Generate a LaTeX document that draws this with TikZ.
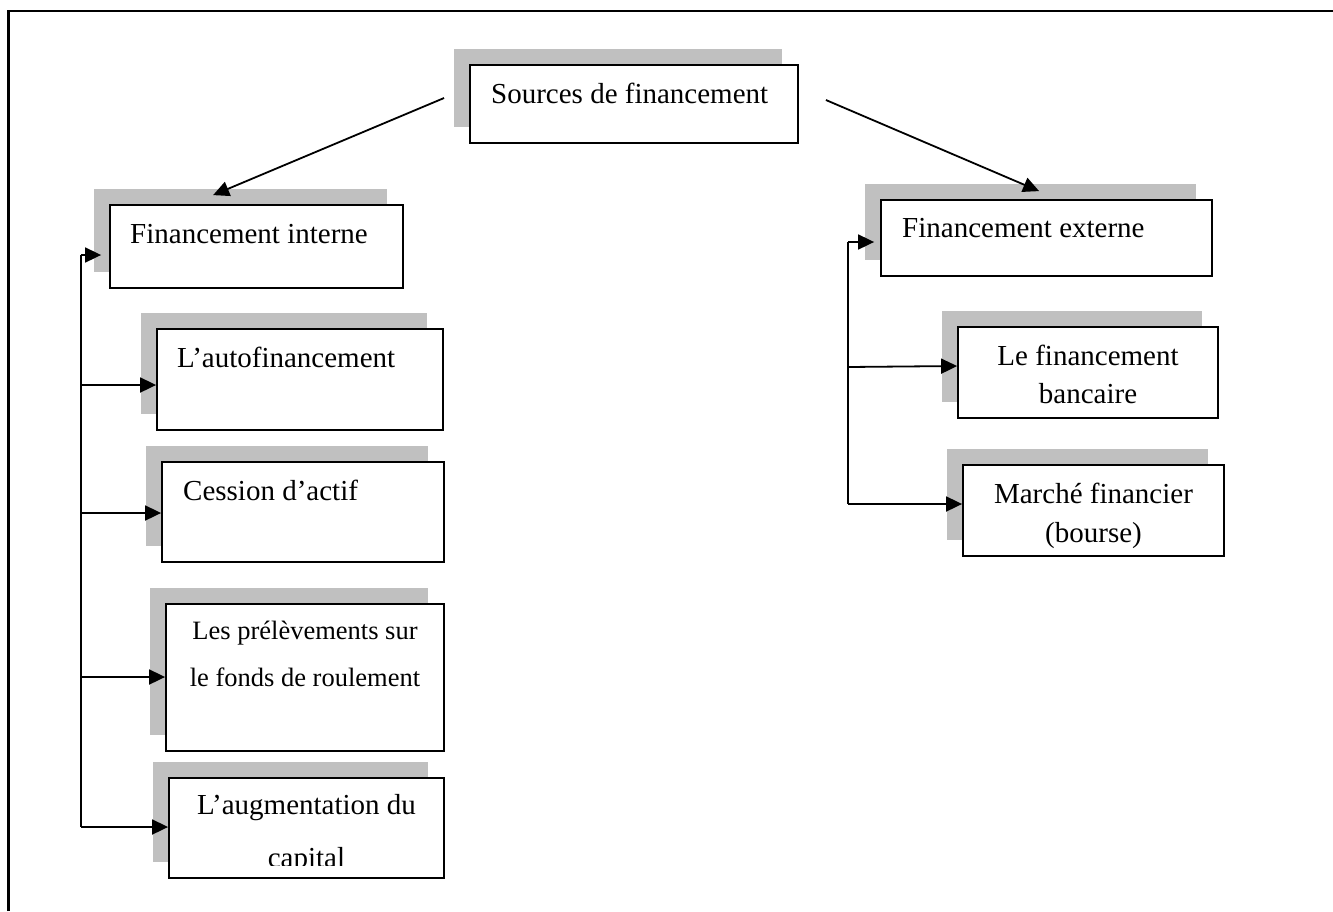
\documentclass[tikz,border=0pt]{standalone}
\usepackage{fontspec}
\setmainfont{Liberation Serif}
\usetikzlibrary{arrows.meta,shadows,calc}
\definecolor{shadowgray}{RGB}{192,192,192}
\begin{document}
\begin{tikzpicture}[x=1pt,y=-1pt,
  box/.style={draw=black, line width=1.8pt, fill=white, rectangle, inner sep=0pt,
    general shadow={shadow xshift=-16pt, shadow yshift=16pt, fill=shadowgray}},
  txt/.style={font=\fontsize{29}{35}\selectfont, inner sep=0pt, anchor=base west},
  txtc/.style={font=\fontsize{29}{35}\selectfont, inner sep=0pt, anchor=base},
  txts/.style={font=\fontsize{26.5}{32}\selectfont, inner sep=0pt, anchor=base},
  conn/.style={line width=1.8pt, -{Triangle[length=16pt,width=15pt]}},
  bus/.style={line width=1.8pt},
  frameline/.style={line width=2.2pt}]
\useasboundingbox (0,0) rectangle (1333,911);
% outer frame
\coordinate (fTL) at (8.5,11);
\coordinate (fTR) at (1333,11);
\coordinate (fBL) at (8.5,911);
\draw[frameline] (fBL) -- (fTL) -- (fTR);

% boxes
\node[box, minimum width=328pt, minimum height=78pt] (src) at (634,104) {};
\node[box, minimum width=293pt, minimum height=83pt] (fi) at (256.5,246.5) {};
\node[box, minimum width=286pt, minimum height=101pt] (auto) at (300,379.5) {};
\node[box, minimum width=282pt, minimum height=100pt] (cess) at (303,512) {};
\node[box, minimum width=278pt, minimum height=147pt] (prel) at (305,677.5) {};
\node[box, minimum width=275pt, minimum height=100pt] (aug) at (306.5,828) {};
\node[box, minimum width=331pt, minimum height=76pt] (fe) at (1046.5,238) {};
\node[box, minimum width=260pt, minimum height=91pt] (banc) at (1088,372.5) {};
\node[box, minimum width=261pt, minimum height=91pt] (march) at (1093.5,510.5) {};

% texts
\node[txt] (srcT) at (491,103) {Sources de financement};
\node[txt] (fiT) at (130,243) {Financement interne};
\node[txt] (autoT) at (177,367) {L’autofinancement};
\node[txt] (cessT) at (183,500) {Cession d’actif};
\node[txts] (prelA) at (305,639) {Les prélèvements sur};
\node[txts] (prelB) at (305,686) {le fonds de roulement};
\node[txtc] (augA) at (306.5,814) {L’augmentation du};
\begin{scope}
  \clip (169,778) rectangle (444,865);
  \node[txtc] (augB) at (306.5,867) {capital};
\end{scope}
\node[txt] (feT) at (902,237) {Financement externe};
\node[txtc] (bancA) at (1088,365) {Le financement};
\node[txtc] (bancB) at (1088,403) {bancaire};
\node[txtc] (marchA) at (1093.5,503) {Marché financier};
\node[txtc] (marchB) at (1093.5,542) {(bourse)};

% top connectors
\draw[conn] ([shift={(-25,-6)}]src.west) -- ([shift={(104,-9)}]fi.north west);
\draw[conn] ([shift={(27,-4)}]src.east) -- ([shift={(159,-8)}]fe.north west);

% left bus
\coordinate (lb1) at (81,255);
\coordinate (lb2) at (81,385);
\coordinate (lb3) at (81,513);
\coordinate (lb4) at (81,677);
\coordinate (lb5) at (81,827);
\draw[bus] (lb1) -- (lb5);
\draw[conn, shorten >=8pt] (lb1) -- (lb1 -| fi.west);
\draw[conn] (lb2) -- (lb2 -| auto.west);
\draw[conn] (lb3) -- (lb3 -| cess.west);
\draw[conn] (lb4) -- (lb4 -| prel.west);
\draw[conn] (lb5) -- (lb5 -| aug.west);

% right bus
\coordinate (rb1) at (848,242);
\coordinate (rb2) at (848,367);
\coordinate (rb3) at (848,504);
\draw[bus] (rb1) -- (rb3);
\draw[conn, shorten >=6pt] (rb1) -- (rb1 -| fe.west);
\draw[conn] (rb2) -- ([yshift=1]rb2 -| banc.west);
\draw[conn] (rb3) -- (rb3 -| march.west);
\end{tikzpicture}
\end{document}
